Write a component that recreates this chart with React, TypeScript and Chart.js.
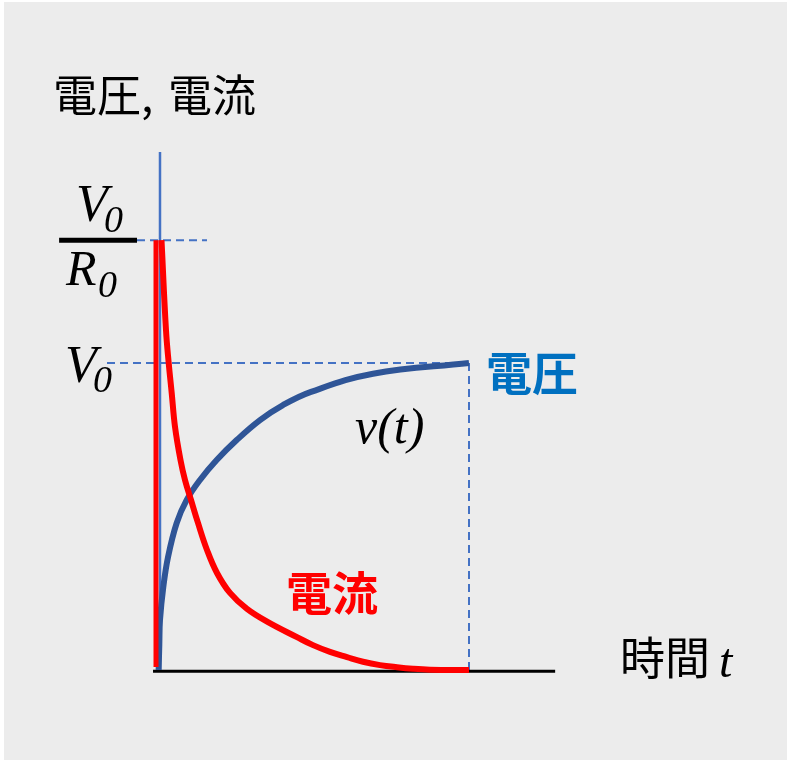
import React, { useEffect, useRef } from "react";
import { Chart, registerables } from "chart.js";

Chart.register(...registerables);

// Time axis (arbitrary units, source ends at t = 10)
const T_END = 10;
// Levels
const V0 = 1; // steady voltage
const I0 = 1.4; // V0 / R0 (initial current level)

// Current i(t) (red)
const currentT = [0.113, 0.257, 0.344, 0.441, 0.547, 0.723, 0.868, 1.061, 1.286, 1.576, 1.897, 2.315, 2.862, 3.537, 4.469, 4.984, 5.531, 6.077, 6.592, 7.138, 7.685, 8.199, 8.746, 10];
const currentI = [1.4, 1.107, 1.0, 0.902, 0.792, 0.684, 0.619, 0.554, 0.479, 0.391, 0.316, 0.251, 0.199, 0.156, 0.107, 0.081, 0.059, 0.042, 0.027, 0.016, 0.009, 0.004, 0.001, 0.0];

// Voltage v(t) (blue)
const voltageT = [0.02, 0.042, 0.064, 0.17, 0.322, 0.601, 0.923, 1.35, 1.887, 2.531, 3.28, 4.019, 4.92, 6.913, 10];
const voltageV = [0.0, 0.081, 0.163, 0.27, 0.368, 0.479, 0.554, 0.619, 0.684, 0.749, 0.814, 0.863, 0.906, 0.965, 1.0];

// Initial vertical jump of the current at t = 0
const jumpT = [-0.064, -0.064];
const jumpI = [0.01, 1.4];

// Axis extents
const xAxisT = [-0.16, 12.77];
const yAxisTop = 1.687;
const yAxisT = 0.064;

// Guide lines
const levelI0T = [-0.675, 1.576];
const fracBarT = [-3.18, -0.675];
const levelV0T = [-1.64, T_END];

const zip = (xs: number[], ys: number[]) => xs.map((x, i) => ({ x, y: ys[i] }));

const CJK = '"Noto Sans CJK JP", "Noto Sans", sans-serif';
const SERIF = '"Liberation Serif", "DejaVu Serif", serif';

export default function App() {
  const ref = useRef<HTMLCanvasElement | null>(null);

  useEffect(() => {
    if (!ref.current) return;

    const bg = {
      id: "bg",
      beforeDraw(chart: any) {
        const c = chart.ctx;
        c.save();
        c.fillStyle = "#ffffff";
        c.fillRect(0, 0, chart.width, chart.height);
        c.fillStyle = "#ececec";
        c.fillRect(4, 2, 783, 758);
        c.restore();
      },
    };

    const labels = {
      id: "labels",
      afterDraw(chart: any) {
        const X = chart.scales.x;
        const Y = chart.scales.y;
        const x0 = X.getPixelForValue(0);
        const xE = X.getPixelForValue(T_END);
        const yV = Y.getPixelForValue(V0);
        const yI = Y.getPixelForValue(I0);
        const y0 = Y.getPixelForValue(0);
        const c = chart.ctx;
        c.save();
        c.textBaseline = "alphabetic";
        c.textAlign = "left";
        const t = (s: string, x: number, y: number, font: string, color: string) => {
          c.font = font;
          c.fillStyle = color;
          c.fillText(s, x, y);
        };
        // Y axis title
        t("電圧,", x0 - 105, yI - 128, `44px ${CJK}`, "#000");
        t("電流", x0 + 10, yI - 128, `44px ${CJK}`, "#000");
        // V0 / R0
        t("V", x0 - 82, yI - 19, `italic 52px ${SERIF}`, "#000");
        t("0", x0 - 54, yI - 8, `italic 38px ${SERIF}`, "#000");
        t("R", x0 - 92, yI + 45, `italic 50px ${SERIF}`, "#000");
        t("0", x0 - 60, yI + 57, `italic 38px ${SERIF}`, "#000");
        // V0
        t("V", x0 - 93, yV + 19, `italic 52px ${SERIF}`, "#000");
        t("0", x0 - 65, yV + 29, `italic 38px ${SERIF}`, "#000");
        // v(t)
        t("v(t)", x0 + 197, yV + 80, `italic 50px ${SERIF}`, "#000");
        // series names
        t("電圧", xE + 17, yV + 27, `bold 46px ${CJK}`, "#0070c0");
        t("電流", x0 + 128, y0 - 60, `bold 46px ${CJK}`, "#ff0000");
        // X axis title
        t("時間", xE + 151, y0 + 5, `45px ${CJK}`, "#000");
        t("t", xE + 250, y0 + 7, `italic 48px ${SERIF}`, "#000");
        c.restore();
      },
    };

    const line = (data: any[], color: string, width: number, order: number, extra: any = {}) => ({
      data,
      borderColor: color,
      borderWidth: width,
      pointRadius: 0,
      pointHoverRadius: 0,
      fill: false,
      tension: 0,
      borderCapStyle: "butt",
      borderJoinStyle: "round",
      order,
      ...extra,
    });

    const dash = { borderDash: [8, 5] };

    const chart = new Chart(ref.current, {
      type: "line",
      data: {
        datasets: [
          line(zip(currentT, currentI), "#ff0000", 6, 0, { tension: 0.4 }),
          line(zip(jumpT, jumpI), "#ff0000", 5, 1),
          line(zip(voltageT, voltageV), "#2f5597", 6, 2, { tension: 0.4 }),
          line(zip(xAxisT, [-0.004, -0.004]), "#000000", 3, 3),
          line(zip([yAxisT, yAxisT], [0, yAxisTop]), "#4472c4", 2.5, 4),
          line(zip(fracBarT, [I0, I0]), "#000000", 5, 5),
          line(zip(levelI0T, [I0, I0]), "#4472c4", 2, 6, dash),
          line(zip(levelV0T, [V0, V0]), "#4472c4", 2, 7, dash),
          line(zip([T_END, T_END], [0, V0]), "#4472c4", 2, 8, dash),
        ] as any,
      },
      options: {
        animation: false,
        responsive: false,
        events: [],
        layout: { padding: { left: 33.6, right: 208.6, top: 117.4, bottom: 59.3 } },
        plugins: { legend: { display: false }, tooltip: { enabled: false }, title: { display: false } },
        scales: {
          x: { type: "linear", min: -4, max: 14, display: false },
          y: { type: "linear", min: -0.1, max: 1.8, display: false },
        },
      } as any,
      plugins: [bg, labels],
    });

    return () => chart.destroy();
  }, []);

  return (
    <div style={{ position: "absolute", left: 0, top: 0, width: 802, height: 760 }}>
      <canvas ref={ref} width={802} height={760} style={{ display: "block", width: 802, height: 760 }} />
    </div>
  );
}
